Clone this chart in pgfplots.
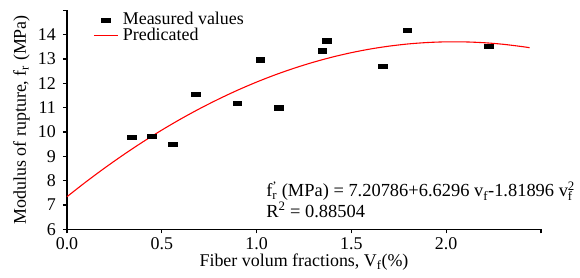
\documentclass[border=0pt]{standalone}
\usepackage{pgfplots}
\pgfplotsset{compat=1.18}
\usepackage{fontspec}
\setmainfont{Liberation Serif}
\newcommand{\fs}{\fontsize{18}{20}\selectfont}
\pgfplotsset{
  legmark/.style={legend image code/.code={\draw[##1] plot coordinates {(12bp,0bp)};}},
  legline/.style={legend image code/.code={\draw[##1] (0bp,0bp) -- (24bp,0bp);}},
}
\begin{document}
\fs
\begin{tikzpicture}
\begin{axis}[
  name=ax,
  scale only axis,
  width=474bp, height=219bp,
  xmin=0, xmax=2.5, ymin=6, ymax=15,
  axis lines=left,
  axis line style={line width=1.3pt, -},
  xtick={0,0.5,1.0,1.5,2.0,2.5},
  xticklabels={0.0,0.5,1.0,1.5,2.0,{}},
  ytick={6,7,8,9,10,11,12,13,14,15},
  yticklabels={6,7,8,9,10,11,12,13,14,{}},
  tick pos=left,
  tick align=outside,
  major tick length=4bp,
  tick style={line width=1.1pt, black},
  /pgf/number format/assume math mode=true,
  ticklabel style={font=\fs},
  xticklabel style={yshift=2bp},
  yticklabel style={xshift=-1bp},
  xlabel={Fiber volum fractions, V\textsubscript{f}(\%)},
  ylabel={Modulus of rupture, f\textsubscript{r} (MPa)},
  label style={font=\fs},
  xlabel style={yshift=8bp},
  ylabel style={yshift=-4bp},
  clip=false,
  legend style={at={(0.055,1.0)}, anchor=north west, draw=none, fill=none,
    font=\fs, row sep=-4pt, inner sep=0pt,
    nodes={inner xsep=4.5bp}},
  legend cell align=left,
]
\addplot[only marks, mark=square*, mark size=2.3pt, mark options={xscale=1.8, yscale=0.9, black}, legmark]
coordinates {
(0.341,9.77) (0.447,9.81) (0.557,9.50) (0.679,11.57) (0.898,11.20)
(1.018,12.97) (1.116,11.00) (1.345,13.34) (1.370,13.75) (1.665,12.71)
(1.795,14.19) (2.224,13.53)
};
\addlegendentry{Measured values}
\addplot[red, line width=1.1pt, smooth, legline] coordinates {
(0,7.34) (0.1,7.949) (0.2,8.527) (0.3,9.074) (0.4,9.591) (0.5,10.078)
(0.6,10.534) (0.7,10.959) (0.8,11.353) (0.9,11.718) (1.0,12.051)
(1.1,12.354) (1.2,12.626) (1.3,12.868) (1.4,13.079) (1.5,13.260)
(1.6,13.410) (1.7,13.529) (1.8,13.618) (1.9,13.676) (2.0,13.704)
(2.1,13.701) (2.2,13.668) (2.3,13.604) (2.4,13.509) (2.44,13.463)
};
\addlegendentry{Predicated}
\node[anchor=base west, inner sep=0pt, font=\fontsize{18.5}{20}\selectfont] at (axis cs:1.050,7.33)
  {f\rlap{\textsuperscript{'}}\textsubscript{r} (MPa) = 7.20786+6.6296 v\textsubscript{f}-1.81896 v\rlap{\textsuperscript{2}}\textsubscript{f}};
\node[anchor=base west, inner sep=0pt, font=\fontsize{18.5}{20}\selectfont] at (axis cs:1.050,6.50)
  {R\textsuperscript{2} = 0.88504};
\end{axis}
\pgfresetboundingbox
\path (ax.south west) ++(-67bp,-48.7bp) rectangle ++(580bp,278bp);
\end{tikzpicture}
\end{document}
